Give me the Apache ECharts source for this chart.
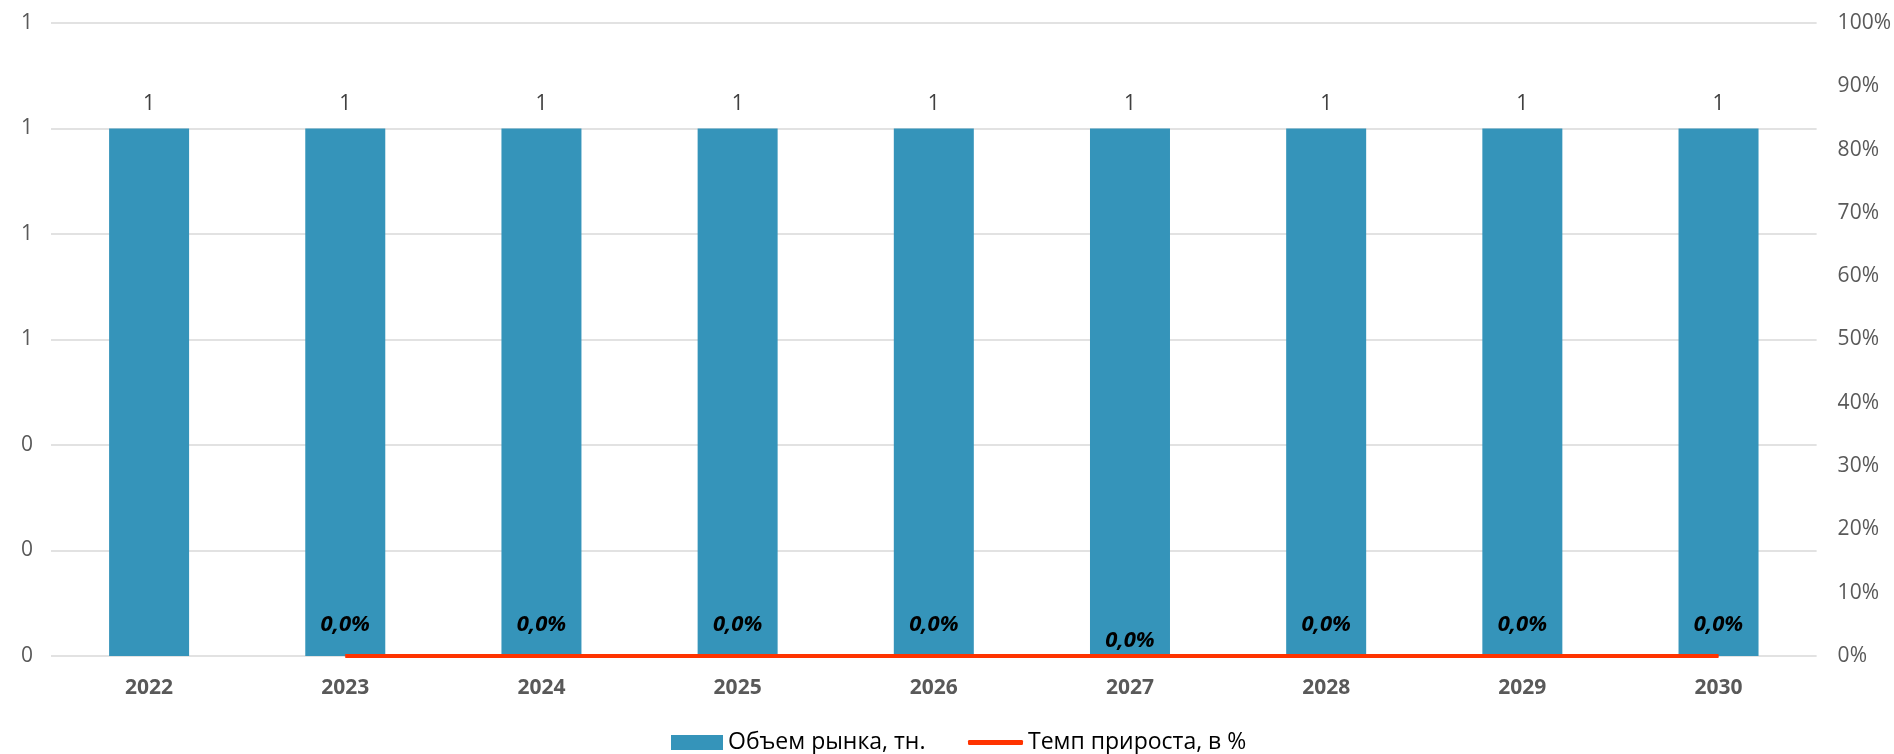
<!DOCTYPE html>
<html lang="ru">
<head>
    <meta charset="utf-8">
    <script src="https://cdn.jsdelivr.net/npm/echarts@6/dist/echarts.min.js"></script>
    <style>
        html, body { margin: 0; padding: 0; width: 100%; height: 100%; background: #fff; }
        #chart { width: 1894px; height: 754px; }
    </style>
</head>
<body>
    <div id="chart"></div>
    <script type="text/javascript">
        // данные графика
        var years = ['2022', '2023', '2024', '2025', '2026', '2027', '2028', '2029', '2030'];
        var marketVolume = [1, 1, 1, 1, 1, 1, 1, 1, 1];
        var growthRate = [null, 0, 0, 0, 0, 0, 0, 0, 0];

        var FONT = '"Open Sans", "Noto Sans", sans-serif';

        var myChart = echarts.init(document.getElementById('chart'));

        // подпись 2027 года стоит ниже остальных
        var growthData = growthRate.map(function (v, i) {
            if (i === 5) {
                return { value: v, label: { distance: 4 } };
            }
            return v;
        });

        var legendText = { fontFamily: FONT, fontSize: 23, color: '#000' };

        var option = {
            animation: false,
            grid: { left: 51, right: 77, top: 23, bottom: 98, containLabel: false },
            legend: [
                {
                    left: 671, top: 731, padding: 0,
                    itemWidth: 52, itemHeight: 15, itemGap: 0,
                    icon: 'rect',
                    textStyle: legendText,
                    data: ['Объем рынка, тн.']
                },
                {
                    left: 968, top: 731, padding: 0,
                    itemWidth: 55, itemHeight: 5, itemGap: 0,
                    icon: 'roundRect',
                    textStyle: legendText,
                    data: ['Темп прироста, в %']
                }
            ],
            xAxis: {
                type: 'category',
                data: years,
                axisTick: { show: false },
                axisLine: { show: false },
                axisLabel: { fontFamily: FONT, fontSize: 21, fontWeight: 'bold', color: '#595959', margin: 22 }
            },
            yAxis: [
                {
                    type: 'value',
                    min: 0, max: 1.2, interval: 0.2,
                    axisLabel: {
                        fontFamily: FONT, fontSize: 21, color: '#595959', margin: 18,
                        formatter: function (v) { return Math.round(v); }
                    },
                    splitLine: { lineStyle: { color: '#d9d9d9', width: 1.5 } },
                    axisLine: { show: false },
                    axisTick: { show: false }
                },
                {
                    type: 'value',
                    min: 0, max: 1, interval: 0.1,
                    position: 'right',
                    axisLabel: {
                        fontFamily: FONT, fontSize: 21, color: '#595959', margin: 21,
                        formatter: function (v) { return Math.round(v * 100) + '%'; }
                    },
                    splitLine: { show: false },
                    axisLine: { show: false },
                    axisTick: { show: false }
                }
            ],
            series: [
                {
                    name: 'Объем рынка, тн.',
                    type: 'bar',
                    data: marketVolume,
                    barWidth: 80,
                    itemStyle: { color: '#3594ba' },
                    label: {
                        show: true, position: 'top', distance: 14,
                        fontFamily: FONT, fontSize: 21, color: '#404040'
                    }
                },
                {
                    name: 'Темп прироста, в %',
                    type: 'line',
                    yAxisIndex: 1,
                    data: growthData,
                    symbol: 'circle',
                    symbolSize: 1,
                    showSymbol: true,
                    lineStyle: { color: '#ff3300', width: 4 },
                    itemStyle: { color: '#ff3300' },
                    label: {
                        show: true, position: 'top', distance: 20,
                        fontFamily: FONT, fontSize: 22, fontWeight: 'bold', fontStyle: 'italic', color: '#000',
                        formatter: function (p) { return p.value.toFixed(1).replace('.', ',') + '%'; }
                    }
                }
            ]
        };

        myChart.setOption(option, true);
    </script>
</body>
</html>
